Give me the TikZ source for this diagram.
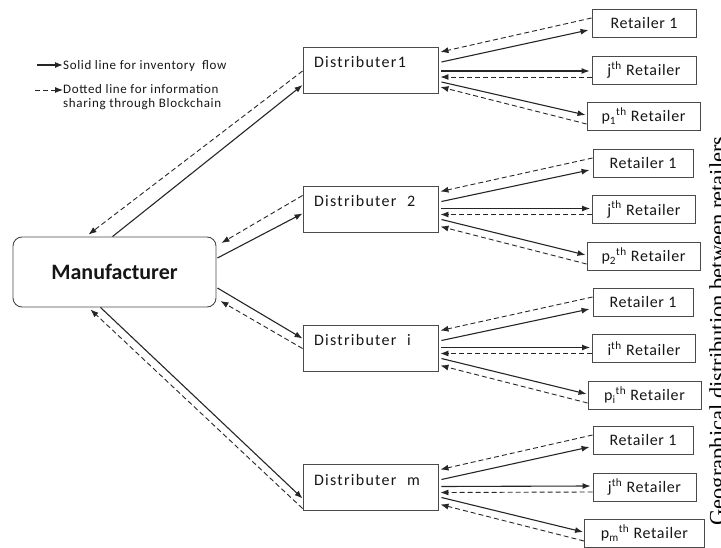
\documentclass[tikz,border=0pt]{standalone}
\usepackage{fontspec}
\setmainfont{Carlito}
\newfontfamily\geofont{Liberation Serif}
\usepackage{tikz}
\usetikzlibrary{arrows.meta, calc}

\definecolor{boxline}{HTML}{4A4A4A}
\definecolor{inktext}{HTML}{161616}

\begin{document}
\begin{tikzpicture}[x=1pt, y=-1pt,
  manu/.style={draw=boxline, line width=0.9pt, rounded corners=9pt, minimum width=203pt,
               minimum height=70pt, font=\fontsize{22}{26}\selectfont\bfseries, text=inktext},
  dist/.style={draw=boxline, line width=0.9pt, minimum width=135pt, minimum height=46pt,
               text width=113pt, align=left, text height=10pt, text depth=15pt,
               font=\fontsize{16}{18}\selectfont\addfontfeatures{LetterSpace=8}, text=inktext},
  retail/.style={draw=boxline, line width=0.9pt, minimum height=28pt, inner sep=0pt,
                 font=\fontsize{16}{18}\selectfont\addfontfeatures{LetterSpace=4}, text=inktext},
  legtext/.style={font=\fontsize{13}{14.5}\selectfont\addfontfeatures{LetterSpace=5}, text=inktext, inner sep=0pt},
  flow/.style={-{Latex[length=8pt,width=6pt]}, line width=1.1pt, black!85},
  info/.style={-{Latex[length=8pt,width=6pt]}, line width=0.9pt, black!85, dash pattern=on 5pt off 3pt},
]
  \useasboundingbox (0,0) rectangle (721,548);

  % legend
  \node[legtext, anchor=west] (solidtxt) at (63,66) {Solid line for inventory\ \ flow};
  \node[legtext, anchor=north west, align=left] (infotxt) at (63,84) {Dotted line for information\\sharing through Blockchain};
  \coordinate (s0) at (37,65);
  \coordinate (d0) at (35,90);
  \draw[flow] (s0) -- (s0 -| solidtxt.west);
  \draw[info] (d0) -- (d0 -| infotxt.west);

  % supply chain
  \node[manu] (M) at (114.5,272) {Manufacturer};

  \node[dist] (D1) at (370.5,70)  {Distributer1};
  \node[dist] (D2) at (370.5,209.5) {Distributer\ \ 2};
  \node[dist] (Di) at (370.5,348.5) {Distributer\ \ i};
  \node[dist] (Dm) at (370.5,487.5) {Distributer\ \ m};

  \node[retail, minimum width=104pt] (R11) at (644,23)  {Retailer 1};
  \node[retail, minimum width=104pt] (J1)  at (644,70)  {j\textsuperscript{th} Retailer};
  \node[retail, minimum width=113pt] (P1)  at (643.5,116) {p\textsubscript{1}\textsuperscript{th} Retailer};
  \node[retail, minimum width=100pt] (R21) at (643,163) {Retailer 1};
  \node[retail, minimum width=103pt] (J2)  at (644,209.5) {j\textsuperscript{th} Retailer};
  \node[retail, minimum width=113pt] (P2)  at (643.5,256) {p\textsubscript{2}\textsuperscript{th} Retailer};
  \node[retail, minimum width=100pt] (Ri1) at (643,302) {Retailer 1};
  \node[retail, minimum width=103pt] (Ji)  at (644,348.5) {i\textsuperscript{th} Retailer};
  \node[retail, minimum width=113pt] (Pi)  at (644.5,395) {p\textsubscript{i}\textsuperscript{th} Retailer};
  \node[retail, minimum width=100pt] (Rm1) at (643,440) {Retailer 1};
  \node[retail, minimum width=103pt] (Jm)  at (644.5,487) {j\textsuperscript{th} Retailer};
  \node[retail, minimum width=120pt] (Pm)  at (644.5,533) {p\textsubscript{m}\textsuperscript{th} Retailer};

  \node[font=\geofont\fontsize{22.5}{24}\selectfont, rotate=90, anchor=north, inner sep=0pt] (geo)
    at (709,331) {Geographical distribution between retailers};

  % manufacturer <-> distributers
  \draw[flow] ($(M.north)+(-2,0)$) -- ($(D1.west)+(0,15)$);
  \draw[info] ($(D1.west)+(0,1)$) -- ($(M.north)+(-26,-2)$);
  \draw[flow] ($(M.east)+(1,-14)$) -- ($(D2.west)+(0,4)$);
  \draw[info] ($(D2.west)+(0,-14)$) -- ($(M.east)+(5,-29)$);
  \draw[flow] ($(M.east)+(1,16)$) -- ($(Di.west)+(0,-10)$);
  \draw[info] ($(Di.west)+(0,0)$) -- ($(M.east)+(4,29)$);
  \draw[flow] ($(M.south)+(-14,0)$) -- ($(Dm.west)+(0,11)$);
  \draw[info] ($(Dm.west)+(0,21)$) -- ($(M.south)+(-24,2)$);

  % distributer 1 <-> retailers
  \draw[flow] ($(D1.east)+(3,-8)$) -- ($(R11.west)+(-3,7)$);
  \draw[info] ($(R11.west)+(0,-5)$) -- ($(D1.east)+(2,-18)$);
  \draw[flow] ($(D1.east)+(3,1)$) -- ($(J1.west)+(-2,1)$);
  \draw[info] ($(J1.west)+(0,7)$) -- ($(D1.east)+(2,7)$);
  \draw[flow] ($(D1.east)+(3,12)$) -- ($(P1.west)+(-1,-1)$);
  \draw[info] ($(P1.west)+(0,8)$) -- ($(D1.east)+(2,17)$);

  % distributer 2 <-> retailers
  \draw[flow] ($(D2.east)+(3,-8)$) -- ($(R21.west)+(-3,7)$);
  \draw[info] ($(R21.west)+(0,-5)$) -- ($(D2.east)+(2,-18)$);
  \draw[flow] ($(D2.east)+(3,-1)$) -- ($(J2.west)+(-2,-1)$);
  \draw[info] ($(J2.west)+(0,5)$) -- ($(D2.east)+(2,5)$);
  \draw[flow] ($(D2.east)+(3,10)$) -- ($(P2.west)+(-1,-1)$);
  \draw[info] ($(P2.west)+(0,8)$) -- ($(D2.east)+(2,17)$);

  % distributer i <-> retailers
  \draw[flow] ($(Di.east)+(3,-8)$) -- ($(Ri1.west)+(-3,7)$);
  \draw[info] ($(Ri1.west)+(0,-5)$) -- ($(Di.east)+(2,-18)$);
  \draw[flow] ($(Di.east)+(3,-1)$) -- ($(Ji.west)+(-2,-1)$);
  \draw[info] ($(Ji.west)+(0,5)$) -- ($(Di.east)+(2,5)$);
  \draw[flow] ($(Di.east)+(3,10)$) -- ($(Pi.west)+(-1,-1)$);
  \draw[info] ($(Pi.west)+(0,8)$) -- ($(Di.east)+(2,17)$);

  % distributer m <-> retailers
  \draw[flow] ($(Dm.east)+(3,-8)$) -- ($(Rm1.west)+(-3,7)$);
  \draw[info] ($(Rm1.west)+(0,-5)$) -- ($(Dm.east)+(2,-18)$);
  \draw[flow] ($(Dm.east)+(3,-1)$) -- ($(Jm.west)+(-2,-1)$);
  \draw[info] ($(Jm.west)+(0,5)$) -- ($(Dm.east)+(2,5)$);
  \draw[flow] ($(Dm.east)+(3,10)$) -- ($(Pm.west)+(-1,-1)$);
  \draw[info] ($(Pm.west)+(0,8)$) -- ($(Dm.east)+(2,17)$);
\end{tikzpicture}
\end{document}
